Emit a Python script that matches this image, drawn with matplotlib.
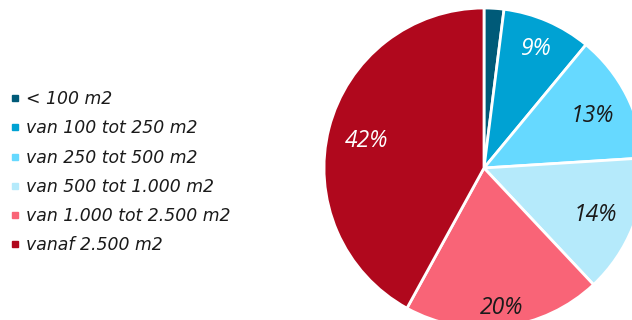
import matplotlib
matplotlib.use("Agg")
import matplotlib.pyplot as plt
from matplotlib.lines import Line2D
import numpy as np

# oppervlakte klassen en aandeel (%)
categories = ["< 100 m2", "van 100 tot 250 m2", "van 250 tot 500 m2",
              "van 500 tot 1.000 m2", "van 1.000 tot 2.500 m2", "vanaf 2.500 m2"]
shares = [2, 9, 13, 14, 20, 42]
labels = ["", "9%", "13%", "14%", "20%", "42%"]

colors = ["#005a78", "#00a2d3", "#66d9ff", "#b5eafb", "#f96477", "#b0081d"]
label_colors = ["white", "white", "#1a1a1a", "#1a1a1a", "#1a1a1a", "white"]
label_dist = [0.8, 0.83, 0.76, 0.75, 0.86, 0.76]

fig = plt.figure(figsize=(6.32, 3.2), dpi=100)
ax = fig.add_axes([0, 0, 1, 1])

# pie in pixel coordinates, center (484, 152), radius 160
cx, cy, r = 484, 152, 160
wedges, _ = ax.pie(shares, colors=colors, startangle=90, counterclock=False,
                   center=(cx, cy), radius=r,
                   wedgeprops=dict(edgecolor="white", linewidth=2))

cum = np.cumsum([0] + shares)
total = sum(shares)
for i, lab in enumerate(labels):
    if not lab:
        continue
    mid = 90 - 360 * (cum[i] + shares[i] / 2) / total
    x = cx + r * label_dist[i] * np.cos(np.radians(mid))
    y = cy + r * label_dist[i] * np.sin(np.radians(mid)) - 3
    ax.text(x, y, lab, ha="center", va="center", fontsize=16.5, style="italic",
            family="Open Sans", color=label_colors[i])

ax.set_xlim(0, 632)
ax.set_ylim(0, 320)
ax.set_aspect("auto")
ax.axis("off")

handles = [Line2D([], [], marker="s", linestyle="none", markersize=5,
                  markerfacecolor=c, markeredgecolor=c) for c in colors]
leg = fig.legend(handles, categories, loc="upper left", bbox_to_anchor=(0.016, 0.718),
                 frameon=False, borderpad=0, borderaxespad=0,
                 handlelength=0.6, handletextpad=0.35, labelspacing=0.65,
                 prop=dict(family="DejaVu Sans", style="italic", size=12.4))
for t in leg.get_texts():
    t.set_color("#1a1a1a")

fig.savefig("out.png", dpi=100)
